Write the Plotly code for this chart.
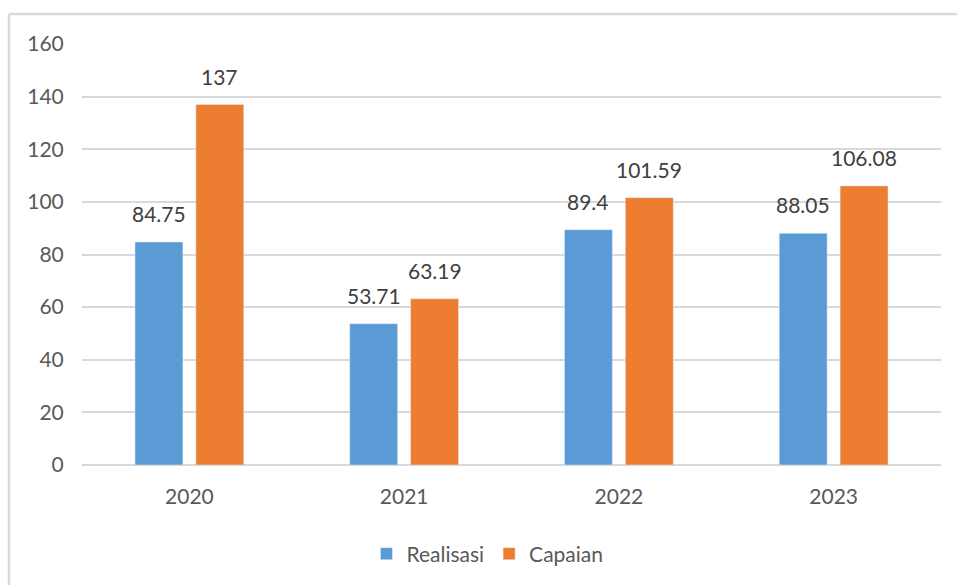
import plotly.graph_objects as go

years = ["2020", "2021", "2022", "2023"]
realisasi = [84.75, 53.71, 89.4, 88.05]
capaian = [137, 63.19, 101.59, 106.08]
realisasi_labels = ["84.75", "53.71", "89.4", "88.05"]
capaian_labels = ["137", "63.19", "101.59", "106.08"]

BLUE = "#5B9BD5"
ORANGE = "#ED7D31"
FONT = "Lato"
FS = 21

fig = go.Figure()
fig.add_trace(go.Bar(x=years, y=realisasi, name="Realisasi", marker_color=BLUE))
fig.add_trace(go.Bar(x=years, y=capaian, name="Capaian", marker_color=ORANGE))

# data labels above bars (x given as category index so the axis range isn't stretched)
for i, (v, t) in enumerate(zip(realisasi, realisasi_labels)):
    fig.add_annotation(x=i, y=v, text=t, showarrow=False, xshift=-30.5,
                       yanchor="bottom", yshift=14,
                       font=dict(size=FS, color="#404040", family=FONT))
for i, (v, t) in enumerate(zip(capaian, capaian_labels)):
    fig.add_annotation(x=i, y=v, text=t, showarrow=False, xshift=30.5,
                       yanchor="bottom", yshift=14,
                       font=dict(size=FS, color="#404040", family=FONT))

# chart border (only top and left edges are visible)
fig.add_shape(type="line", xref="paper", yref="paper",
              x0=-0.085, x1=1.03, y0=1.071, y1=1.071,
              line=dict(color="#D9D9D9", width=2.5))
fig.add_shape(type="line", xref="paper", yref="paper",
              x0=-0.085, x1=-0.085, y0=1.071, y1=-0.3,
              line=dict(color="#D9D9D9", width=2.5))

fig.update_layout(
    width=957, height=585,
    margin=dict(l=82, r=16, t=44, b=119),
    paper_bgcolor="white", plot_bgcolor="white",
    barmode="group", bargap=0.433, bargroupgap=0.213,
    font=dict(family=FONT, size=FS, color="#595959"),
    legend=dict(orientation="h", x=0.472, xanchor="center", y=-0.2085, yanchor="middle",
                font=dict(size=FS, color="#595959", family=FONT), itemwidth=30),
    showlegend=True,
)
fig.update_yaxes(range=[0, 160], dtick=20, showgrid=True, gridcolor="#D9D9D9",
                 gridwidth=1.5, zeroline=True, zerolinecolor="#D9D9D9", zerolinewidth=1.5,
                 ticks="outside", ticklen=13, tickcolor="rgba(0,0,0,0)",
                 tickfont=dict(size=FS, color="#595959", family=FONT))
fig.update_xaxes(type="category", range=[-0.5, 3.5], showline=False,
                 ticks="outside", ticklen=13, tickcolor="rgba(0,0,0,0)",
                 tickfont=dict(size=FS, color="#595959", family=FONT))

fig.write_html("out.html", config={"displayModeBar": False},
               post_script="document.body.style.margin='0';")
